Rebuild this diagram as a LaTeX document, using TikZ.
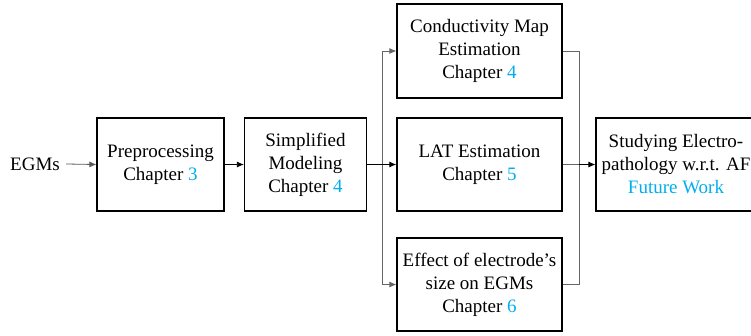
\documentclass[tikz,border=0pt]{standalone}
\usepackage{fontspec}
\setmainfont{Liberation Serif}
\usetikzlibrary{arrows.meta}
\definecolor{chap}{RGB}{0,174,239}
\begin{document}
\begin{tikzpicture}[x=1pt,y=-1pt,
  box/.style={draw=black,line width=1.2pt,minimum height=93pt,align=center,inner sep=0pt,
    font=\fontsize{19}{23}\selectfont},
  conn/.style={draw=gray!80!black,line width=0.8pt},
  arr/.style={-{Latex[length=7pt,width=6pt]},line width=0.8pt}]
\useasboundingbox (0,0) rectangle (751,335);
\node[font=\fontsize{19}{23}\selectfont,inner sep=0pt] (egm) at (35,164) {EGMs};
\node[box,minimum width=127pt] (pre) at (160.5,164.5) {Preprocessing\\Chapter \textcolor{chap}{3}};
\node[box,minimum width=122pt] (sim) at (305.5,164.5) {Simplified\\Modeling\\Chapter \textcolor{chap}{4}};
\node[box,minimum width=165pt,minimum height=94pt] (cond) at (479.5,51) {Conductivity Map\\Estimation\\Chapter \textcolor{chap}{4}};
\node[box,minimum width=165pt] (lat) at (479.5,164.5) {LAT Estimation\\Chapter \textcolor{chap}{5}};
\node[box,minimum width=165pt] (eff) at (479.5,284.5) {Effect of electrode’s\\size on EGMs\\Chapter \textcolor{chap}{6}};
\node[box,minimum width=160pt] (fut) at (676,164.5) {Studying Electro-\\pathology w.r.t. AF\\\textcolor{chap}{Future Work}};
\coordinate (sp) at (382,164.5);
\coordinate (sptop) at (382,51);
\coordinate (spbot) at (382,284.5);
\coordinate (mtop) at (579,51);
\coordinate (mbot) at (579,284.5);
\coordinate (mmid) at (579,164.5);
\draw[arr,gray!70!black] (egm.east) ++(6pt,0) -- (pre.west);
\draw[arr,black] (pre.east) -- (sim.west);
\draw[conn] (sptop) -- (spbot);
\draw[conn] (mtop) -- (mbot);
\draw[conn] (cond.east) -- (mtop);
\draw[conn] (eff.east) -- (mbot);
\draw[arr,black,line width=1pt] (sim.east) -- (lat.west);
\draw[arr,conn] (sptop) -- (cond.west);
\draw[arr,conn] (spbot) -- (eff.west);
\draw[conn] (lat.east) -- (mmid);
\draw[arr,black] (mmid) -- (fut.west);
\end{tikzpicture}
\end{document}
